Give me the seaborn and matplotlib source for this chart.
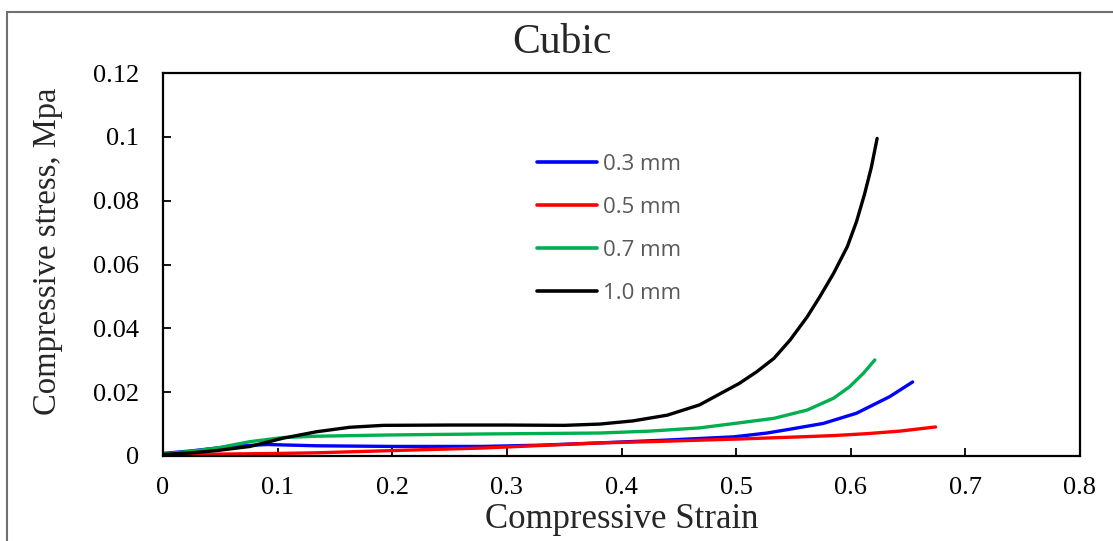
import matplotlib
matplotlib.use("Agg")
import matplotlib.pyplot as plt
import seaborn as sns
import pandas as pd
from matplotlib.patches import Rectangle

# ---- data ----
strain_03 = [0, 0.025, 0.047, 0.07, 0.091, 0.134, 0.2, 0.279, 0.33, 0.381, 0.44, 0.498, 0.527, 0.547, 0.576, 0.605, 0.634, 0.654]
stress_03 = [0.0008, 0.0016, 0.0025, 0.0032, 0.0036, 0.0032, 0.0030, 0.0030, 0.0034, 0.0041, 0.0050, 0.0060, 0.0072, 0.0084, 0.0102, 0.0134, 0.0186, 0.0232]

strain_05 = [0, 0.05, 0.1, 0.134, 0.2, 0.279, 0.33, 0.381, 0.425, 0.5, 0.556, 0.585, 0.614, 0.643, 0.674]
stress_05 = [0.0003, 0.0006, 0.0008, 0.0010, 0.0017, 0.0025, 0.0033, 0.0041, 0.0045, 0.0053, 0.0060, 0.0064, 0.0070, 0.0078, 0.0091]

strain_07 = [0, 0.025, 0.047, 0.076, 0.105, 0.134, 0.2, 0.279, 0.381, 0.425, 0.468, 0.503, 0.533, 0.562, 0.585, 0.599, 0.611, 0.621]
stress_07 = [0.0006, 0.0015, 0.0025, 0.0045, 0.0058, 0.0062, 0.0066, 0.0069, 0.0072, 0.0078, 0.0088, 0.0104, 0.0118, 0.0144, 0.0181, 0.0217, 0.0259, 0.0301]

strain_10 = [0, 0.025, 0.047, 0.076, 0.105, 0.134, 0.163, 0.192, 0.25, 0.30, 0.35, 0.381, 0.41, 0.44, 0.468, 0.503, 0.518, 0.533, 0.547, 0.562, 0.573, 0.585, 0.597, 0.605, 0.612, 0.618, 0.623]
stress_10 = [0.0005, 0.0010, 0.0017, 0.0030, 0.0056, 0.0076, 0.0090, 0.0096, 0.0097, 0.0097, 0.0096, 0.0100, 0.0110, 0.0128, 0.0160, 0.0228, 0.0264, 0.0306, 0.0363, 0.0436, 0.0499, 0.0572, 0.0656, 0.0734, 0.0820, 0.0905, 0.0995]

labels = ["0.3 mm", "0.5 mm", "0.7 mm", "1.0 mm"]
colors = ["#0000FF", "#FF0000", "#00B050", "#000000"]

x_ticks = [0, 0.1, 0.2, 0.3, 0.4, 0.5, 0.6, 0.7, 0.8]
x_ticklabels = ["0", "0.1", "0.2", "0.3", "0.4", "0.5", "0.6", "0.7", "0.8"]
y_ticks = [0, 0.02, 0.04, 0.06, 0.08, 0.1, 0.12]
y_ticklabels = ["0", "0.02", "0.04", "0.06", "0.08", "0.1", "0.12"]

frames = []
for lab, xs, ys in zip(labels,
                       [strain_03, strain_05, strain_07, strain_10],
                       [stress_03, stress_05, stress_07, stress_10]):
    frames.append(pd.DataFrame({"strain": xs, "stress": ys, "size": lab}))
df = pd.concat(frames, ignore_index=True)

sns.set_theme(style="white")
plt.rcParams["font.family"] = ["Liberation Serif", "DejaVu Serif"]

fig = plt.figure(figsize=(11.13, 5.41), dpi=100)
ax = fig.add_axes([163 / 1113, 85 / 541, (1080 - 163) / 1113, (456 - 73) / 541])

sns.lineplot(data=df, x="strain", y="stress", hue="size", hue_order=labels,
             palette=colors, estimator=None, sort=False, linewidth=2.4, ax=ax)
for ln in ax.get_lines():
    ln.set_solid_joinstyle("round")
    ln.set_solid_capstyle("round")

ax.set_xlim(0, 0.8)
ax.set_ylim(0, 0.12)
ax.set_xticks(x_ticks)
ax.set_xticklabels(x_ticklabels)
ax.set_yticks(y_ticks)
ax.set_yticklabels(y_ticklabels)
ax.tick_params(axis="both", direction="in", length=6, width=1.3, color="black",
               labelsize=19, labelcolor="black", bottom=True, left=True)
ax.tick_params(axis="x", pad=15)
ax.tick_params(axis="y", pad=17)
for s in ax.spines.values():
    s.set_color("black")
    s.set_linewidth(1.6)
ax.set_xlabel("")
ax.set_ylabel("")

leg = ax.legend(loc="upper left", bbox_to_anchor=((528 - 163) / 917, (456 - 145) / 383),
                borderaxespad=0, frameon=False, handlelength=2.7, handletextpad=0.27,
                labelspacing=0.99,
                prop={"family": ["Open Sans", "DejaVu Sans"], "size": 16})
for t in leg.get_texts():
    t.set_color("#595959")
for h in leg.get_lines():
    h.set_linewidth(2.6)

fig.text(562 / 1113, 1 - 53 / 541, "Cubic", ha="center", va="baseline", fontsize=30)
fig.text(622 / 1113, 1 - 528 / 541, "Compressive Strain", ha="center", va="baseline", fontsize=25)
fig.text(48 / 1113, 1 - 251 / 541, "Compressive stress, Mpa", ha="center", va="center",
         rotation=90, fontsize=23.5)

fig.patches.append(Rectangle((7 / 1113, -0.1), 1.2, 1 - 12 / 541 + 0.1,
                             transform=fig.transFigure, fill=False,
                             edgecolor="#707070", linewidth=1.5, zorder=0))

fig.savefig("out.png", dpi=100)
